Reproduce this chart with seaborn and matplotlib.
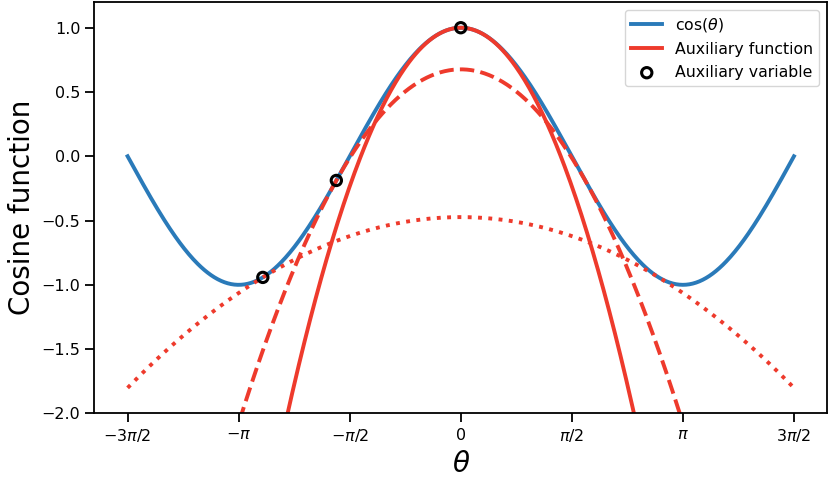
import numpy as np
import matplotlib
matplotlib.use('Agg')
import matplotlib.pyplot as plt
import seaborn as sns

# auxiliary variable points (theta_k)
aux_theta = [-2.80, -1.76, 0.0]
aux_styles = [':', '--', '-']

tick_pos = [-3 * np.pi / 2, -np.pi, -np.pi / 2, 0, np.pi / 2, np.pi, 3 * np.pi / 2]
tick_labels = [r'$-3\pi/2$', r'$-\pi$', r'$-\pi/2$', r'$0$', r'$\pi/2$', r'$\pi$', r'$3\pi/2$']

theta = np.linspace(-3 * np.pi / 2, 3 * np.pi / 2, 600)
blue = '#2a7ab9'
red = '#ee3a2c'

plt.rcParams['font.family'] = ['DejaVu Sans']
plt.rcParams['axes.linewidth'] = 1.3
plt.rcParams['xtick.major.size'] = 6.5
plt.rcParams['ytick.major.size'] = 6.5
plt.rcParams['xtick.major.width'] = 1.3
plt.rcParams['ytick.major.width'] = 1.3

fig, ax = plt.subplots(figsize=(8.3, 4.79), dpi=100)
fig.subplots_adjust(left=0.1136, right=0.9967, top=0.9958, bottom=0.137)

sns.lineplot(x=theta, y=np.cos(theta), color=blue, linewidth=2.8, label=r'cos($\theta$)', ax=ax)

# quadratic minorizer touching cos at +-theta_k
for t0, ls in zip(aux_theta, aux_styles):
    if t0 == 0:
        curv = 1.0
    else:
        curv = np.sin(t0) / t0
    g = np.cos(t0) - 0.5 * curv * (theta ** 2 - t0 ** 2)
    lab = 'Auxiliary function' if ls == '-' else '_nolegend_'
    sns.lineplot(x=theta, y=g, color=red, linewidth=2.8, linestyle=ls, label=lab, ax=ax)

sns.scatterplot(x=aux_theta, y=np.cos(aux_theta), marker='o', s=55, facecolor='none',
                edgecolor='black', linewidth=2.2, label='Auxiliary variable', zorder=5, ax=ax)

ax.set_ylim(-2.0, 1.2)
ax.set_xticks(tick_pos)
ax.set_xticklabels(tick_labels)
ax.tick_params(labelsize=11.5)
ax.set_xlabel(r'$\theta$', fontsize=20)
ax.set_ylabel('Cosine function', fontsize=20)
ax.legend(loc='upper right', fontsize=11.3)

plt.savefig('out.png', dpi=100)
